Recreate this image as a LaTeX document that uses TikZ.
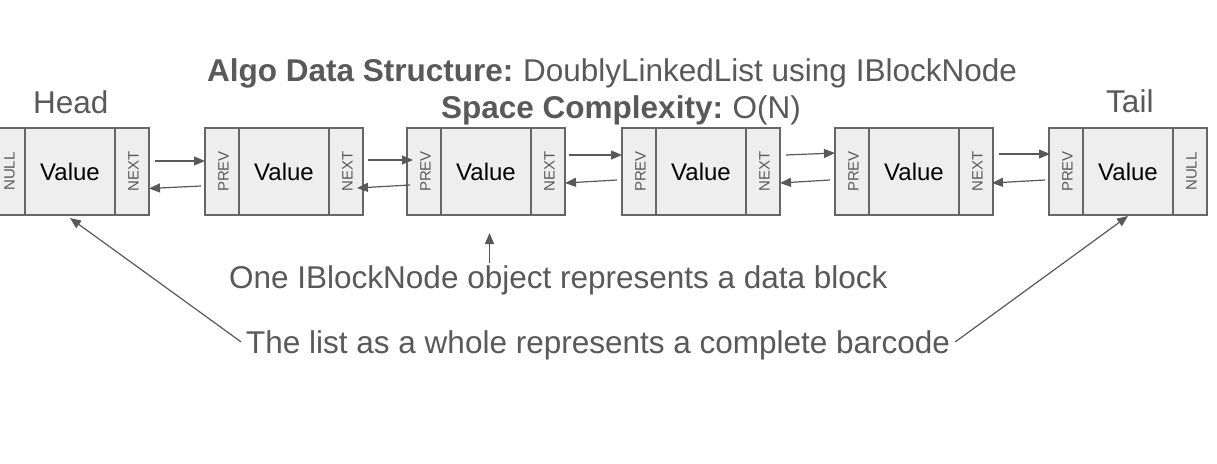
\documentclass[tikz,border=0pt]{standalone}
\usepackage{fontspec}
\setmainfont{Liberation Sans}
\usetikzlibrary{arrows.meta,calc}
\definecolor{tg}{HTML}{595959}
\definecolor{cellfill}{HTML}{EEEEEE}
\definecolor{celldraw}{HTML}{666666}
\tikzset{
  cellS/.style={draw=celldraw, fill=cellfill, line width=1.3pt, outer sep=0pt, inner sep=0pt,
    minimum width=34pt, minimum height=87pt, text=tg, font=\fontsize{15}{15}\selectfont},
  cellV/.style={draw=celldraw, fill=cellfill, line width=1.3pt, outer sep=0pt, inner sep=0pt,
    minimum width=90pt, minimum height=87pt, text=black, font=\fontsize{24}{24}\selectfont},
  arr/.style={draw=tg, line width=1.2pt, -{Triangle[length=11pt,width=9pt]}},
  lbl/.style={text=tg, inner sep=0pt, font=\fontsize{31.5}{31.5}\selectfont}
}
\newcommand\blk[4]{%
  \node[cellS, anchor=north west] (#1l) at (#2,128) {\hspace*{3pt}\rotatebox{90}{#3}};
  \node[cellV, anchor=north west] (#1v) at (#1l.north east) {Value};
  \node[cellS, anchor=north west] (#1r) at (#1v.north east) {\hspace*{3pt}\rotatebox{90}{#4}};
}
\begin{document}
\begin{tikzpicture}[x=1pt,y=-1pt]
\useasboundingbox (0,0) rectangle (1217,463);
\fill[white] (0,0) rectangle (1217,463);

\blk{b1}{-9}{NULL}{NEXT}
\blk{b2}{205}{PREV}{NEXT}
\blk{b3}{407}{PREV}{NEXT}
\blk{b4}{622}{PREV}{NEXT}
\blk{b5}{835}{PREV}{NEXT}
\blk{b6}{1049}{PREV}{NULL}

% forward / backward links
\draw[arr] ($(b1r.east)+(6,-10.5)$) -- ($(b2l.west)+(0,-10.5)$);
\draw[arr] ($(b2l.west)+(-4,14.5)$) -- ($(b1r.east)+(0,17)$);
\draw[arr] ($(b2r.east)+(5,-11.5)$) -- ($(b3l.west)+(6,-11.5)$);
\draw[arr] ($(b3l.west)+(3,13.5)$) -- ($(b2r.east)+(-6,16.5)$);
\draw[arr] ($(b3r.east)+(4,-16.5)$) -- ($(b4l.west)+(0,-16.5)$);
\draw[arr] ($(b4l.west)+(-5,8.5)$) -- ($(b3r.east)+(0,11.5)$);
\draw[arr] ($(b4r.east)+(6,-16.5)$) -- ($(b5l.west)+(0,-18.5)$);
\draw[arr] ($(b5l.west)+(-5,8.5)$) -- ($(b4r.east)+(0,11.5)$);
\draw[arr] ($(b5r.east)+(6,-17.5)$) -- ($(b6l.west)+(1,-17.5)$);
\draw[arr] ($(b6l.west)+(-4,8.5)$) -- ($(b5r.east)+(-1,11.5)$);

% labels
\node[lbl, anchor=base west] (head) at (33,113) {Head};
\node[lbl, anchor=base west] (tail) at (1106,112) {Tail};
\node[lbl, anchor=base west] (title1) at (207,81) {\textbf{Algo Data Structure:}\hspace{-2pt} DoublyLinkedList using IBlockNode};
\node[lbl, anchor=base west] (title2) at (441,118) {\textbf{Space Complexity:}\hspace{-2pt} O(N)};
\node[lbl, anchor=base west] (one) at (229,288) {One IBlockNode object represents a data block};
\node[lbl, anchor=base west] (whole) at (246,353) {The list as a whole represents a complete barcode};

% callouts
\draw[arr] ($(b3v.south)+(3.5,48)$) -- ($(b3v.south)+(3.5,18)$);
\draw[arr] ($(whole.west)+(-5,-3)$) -- ($(b1v.south)+(0,3)$);
\draw[arr] ($(whole.east)+(5,-3)$) -- ($(b6v.south)+(0,1)$);
\end{tikzpicture}
\end{document}
